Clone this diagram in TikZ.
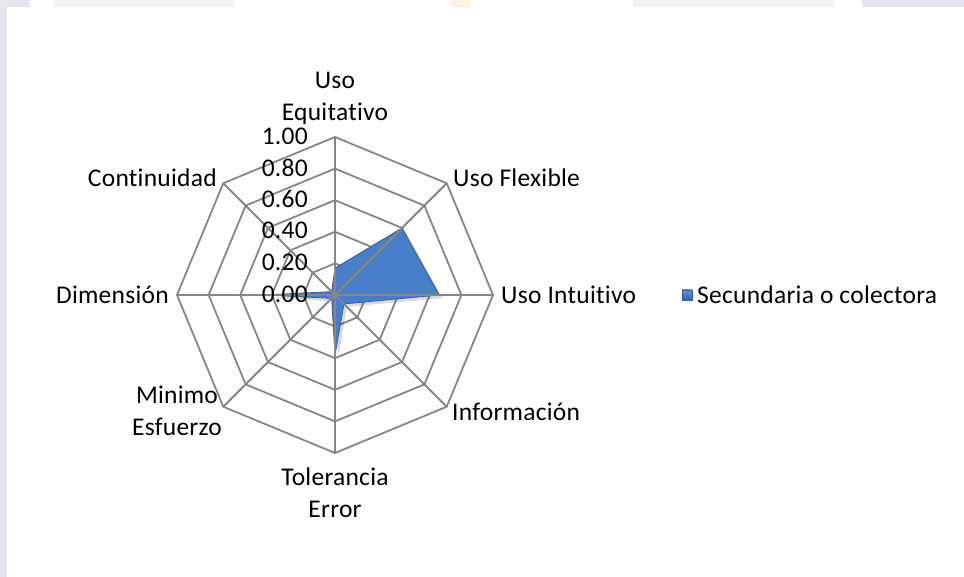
\documentclass[tikz,border=0pt]{standalone}
\usepackage{fontspec}
\setmainfont{Carlito}[LetterSpace=1,RawFeature={-liga}]
\definecolor{gridc}{RGB}{134,134,134}
\definecolor{serie}{RGB}{72,125,200}
\definecolor{seriedark}{RGB}{48,95,170}
\definecolor{serielight}{RGB}{100,150,220}
\definecolor{lav}{RGB}{229,227,235}
\definecolor{lightstrip}{RGB}{244,244,247}
\definecolor{peach}{RGB}{253,242,226}
\begin{document}
\begin{tikzpicture}[x=1pt,y=1pt,
  lbl/.style={font=\fontsize{25.5}{32}\selectfont, inner sep=0pt, text=black},
  gridline/.style={draw=gridc, line width=1.8pt}]
\useasboundingbox (0,0) rectangle (964,577);
\fill[white] (0,0) rectangle (964,577);
% page background strips
\fill[lav] (0,0) rectangle (7,570);
\fill[lav] (0,570) rectangle (30,577);
\fill[lightstrip] (53,570) rectangle (235,577);
\fill[peach] (451,570) rectangle (470,577);
\fill[lightstrip] (633,570) rectangle (834,577);
\fill[lav] (862,570) rectangle (964,577);
\begin{scope}[shift={(335,282)}]
  % rings
  \foreach \k in {1,...,5}{
    \pgfmathsetmacro\r{31.6*\k}
    \draw[gridline] (90:\r) -- (45:\r) -- (0:\r) -- (-45:\r) -- (-90:\r) -- (-135:\r) -- (180:\r) -- (135:\r) -- cycle;
  }
  % shadow
  \fill[black,opacity=0.15,shift={(3,-3)}] (90:0.17*158) -- (45:0.60*158) -- (0:0.66*158) -- (-45:0.08*158) -- (-90:0.38*158) -- (-135:0.03*158) -- (180:0.45*158) -- (135:0.03*158) -- cycle;
  % series
  \fill[serie, draw=seriedark, line width=0.8pt, line join=round] (90:0.17*158) -- (45:0.60*158) -- (0:0.66*158) -- (-45:0.08*158) -- (-90:0.38*158) -- (-135:0.03*158) -- (180:0.45*158) -- (135:0.03*158) -- cycle;
  % spokes
  \foreach \a in {0,45,...,315}{
    \draw[gridline] (0,0) -- (\a:158);
  }
  % tick labels
  \foreach \k/\t in {0/0.00,1/0.20,2/0.40,3/0.60,4/0.80,5/1.00}{
    \node[lbl, anchor=east] (t\k) at (-27,31.6*\k+1) {\t};
  }
\end{scope}
% category labels
\node[lbl, align=center] (equi) at (335,479) {Uso\\Equitativo};
\node[lbl, anchor=east] (cont) at (217,399) {Continuidad};
\node[lbl, anchor=west] (flex) at (453,399) {Uso Flexible};
\node[lbl, anchor=west] (intu) at (501,282) {Uso Intuitivo};
\node[lbl, anchor=east] (dime) at (169,282) {Dimensión};
\node[lbl, align=center] (mini) at (177,166) {Minimo\\Esfuerzo};
\node[lbl, anchor=west] (info) at (452,165) {Información};
\node[lbl, align=center] (tole) at (335,84) {Tolerancia\\Error};
% legend
\shade[top color=serielight, bottom color=seriedark, draw=seriedark, line width=0.4pt] (682,277) rectangle (692,287);
\node[lbl, anchor=west] (leg) at (697,282) {Secundaria o colectora};
\end{tikzpicture}
\end{document}
